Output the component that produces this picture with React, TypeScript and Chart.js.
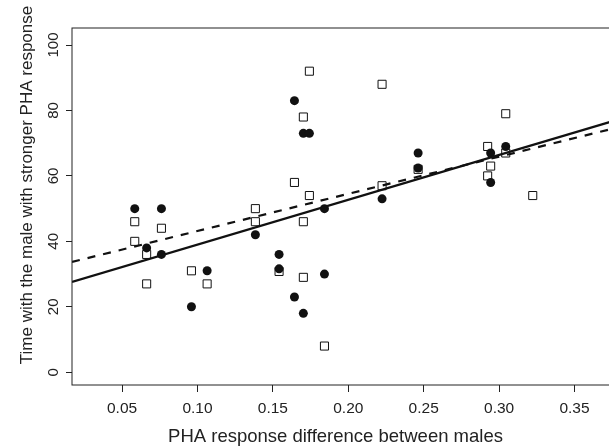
import React, { useEffect, useRef } from "react";
import { Chart, registerables } from "chart.js";

Chart.register(...registerables);

// ---- axis ranges and ticks ----
const X_MIN = 0.0168;
const X_MAX = 0.3732;
const Y_MIN = -3.9;
const Y_MAX = 105.2;
const X_TICKS = [0.05, 0.1, 0.15, 0.2, 0.25, 0.3, 0.35];
const Y_TICKS = [0, 20, 40, 60, 80, 100];

// ---- filled circles ----
const circleX = [0.0584, 0.0761, 0.1643, 0.1702, 0.1742, 0.1842, 0.0663, 0.0761, 0.096, 0.1064, 0.1384,
  0.1541, 0.1541, 0.1643, 0.1702, 0.1842, 0.2463, 0.2463, 0.2944, 0.3044, 0.2944, 0.2224];
const circleY = [50, 50, 83, 73, 73, 50, 38, 36, 20, 31, 42,
  36, 31.6, 23, 18, 30, 67, 62.4, 67, 69, 58, 53];

// ---- open squares ----
const squareX = [0.1742, 0.1702, 0.1643, 0.1742, 0.1384, 0.0584, 0.0584, 0.0663, 0.0663, 0.0761, 0.096,
  0.1064, 0.1384, 0.1541, 0.1702, 0.1702, 0.1842, 0.2224, 0.3044, 0.2463, 0.2924, 0.3044, 0.2944, 0.2924,
  0.3223, 0.2224];
const squareY = [92, 78, 58, 54, 50, 46, 40, 36, 27, 44, 31,
  27, 46, 30.8, 46, 29, 8, 88, 79, 62, 69, 67, 63, 60,
  54, 57];

// ---- fitted lines: [intercept, slope] ----
const SOLID_FIT = [25.3, 137];
const DASHED_FIT = [31.8, 113.6];

const X_TITLE = "PHA response difference between males";
const Y_TITLE = "Time with the male with stronger PHA response";

const FONT = "'Liberation Sans', Arial, sans-serif";
const INK = "#222";

const pts = (xs: number[], ys: number[]) => xs.map((x, i) => ({ x, y: ys[i] }));
const fitLine = (f: number[]) => [X_MIN, X_MAX].map((x) => ({ x, y: f[0] + f[1] * x }));

const decor = {
  id: "decor",
  afterDatasetsDraw(chart: any) {
    const { ctx, chartArea: a } = chart;
    ctx.save();
    ctx.strokeStyle = INK;
    ctx.lineWidth = 1;
    ctx.strokeRect(a.left, a.top, a.right - a.left, a.bottom - a.top);
    ctx.restore();
  },
  afterDraw(chart: any) {
    const { ctx, chartArea: a } = chart;
    const ys = chart.scales.y;
    ctx.save();
    ctx.fillStyle = INK;
    // y tick labels (rotated, R style)
    ctx.font = `15px ${FONT}`;
    ctx.textAlign = "center";
    ctx.textBaseline = "alphabetic";
    for (const t of ys.ticks) {
      const py = ys.getPixelForValue(t.value);
      ctx.save();
      ctx.translate(a.left - 14, py);
      ctx.rotate(-Math.PI / 2);
      ctx.fillText(String(t.value), 0, 0);
      ctx.restore();
    }
    // y title
    ctx.font = `17px ${FONT}`;
    ctx.save();
    ctx.translate(32, 185);
    ctx.rotate(-Math.PI / 2);
    ctx.fillText(Y_TITLE, 0, 0);
    ctx.restore();
    // x title
    ctx.font = `18.5px ${FONT}`;
    ctx.fillText(X_TITLE, 335.5, 441.5);
    ctx.restore();
  },
};

export default function App() {
  const ref = useRef<HTMLCanvasElement | null>(null);
  useEffect(() => {
    if (!ref.current) return;
    const chart = new Chart(ref.current, {
      type: "scatter",
      data: {
        datasets: [
          {
            type: "line",
            data: fitLine(SOLID_FIT),
            borderColor: "#111",
            borderWidth: 2.2,
            pointRadius: 0,
            fill: false,
            order: 0,
          } as any,
          {
            type: "line",
            data: fitLine(DASHED_FIT),
            borderColor: "#111",
            borderWidth: 2.2,
            borderDash: [8, 8],
            pointRadius: 0,
            fill: false,
            order: 0,
          } as any,
          {
            data: pts(circleX, circleY),
            pointStyle: "circle",
            pointRadius: 4.5,
            backgroundColor: "#111",
            borderColor: "#111",
            borderWidth: 0,
            order: 1,
          },
          {
            data: pts(squareX, squareY),
            pointStyle: "rect",
            pointRadius: 5.7,
            backgroundColor: "rgba(0,0,0,0)",
            borderColor: "#111",
            borderWidth: 1,
            order: 2,
          },
        ],
      },
      options: {
        animation: false,
        responsive: false,
        devicePixelRatio: 1,
        layout: { autoPadding: false, padding: { top: 28, right: 2.5, bottom: 0, left: 0 } },
        plugins: { legend: { display: false }, tooltip: { enabled: false } },
        scales: {
          x: {
            type: "linear",
            min: X_MIN,
            max: X_MAX,
            afterBuildTicks: (s: any) => {
              s.ticks = X_TICKS.map((v) => ({ value: v }));
            },
            afterFit: (s: any) => {
              s.height = 61;
              s.paddingLeft = 0;
              s.paddingRight = 0;
            },
            grid: { drawOnChartArea: false, drawTicks: true, tickLength: 7, color: INK, lineWidth: 1 },
            border: { display: false },
            ticks: {
              autoSkip: false,
              maxRotation: 0,
              padding: 7,
              color: INK,
              font: { family: FONT, size: 15.5 },
              callback: (v: any) => Number(v).toFixed(2),
            },
          },
          y: {
            type: "linear",
            min: Y_MIN,
            max: Y_MAX,
            afterBuildTicks: (s: any) => {
              s.ticks = Y_TICKS.map((v) => ({ value: v }));
            },
            afterFit: (s: any) => {
              s.width = 72;
              s.paddingTop = 0;
              s.paddingBottom = 0;
            },
            grid: { drawOnChartArea: false, drawTicks: true, tickLength: 6, color: INK, lineWidth: 1 },
            border: { display: false },
            ticks: { display: false },
          },
        },
      },
      plugins: [decor],
    });
    return () => chart.destroy();
  }, []);
  return (
    <div style={{ position: "absolute", left: 0, top: 0, width: 609, height: 446, overflow: "hidden", background: "#fff" }}>
      <canvas ref={ref} width={612} height={446} style={{ display: "block" }} />
    </div>
  );
}
